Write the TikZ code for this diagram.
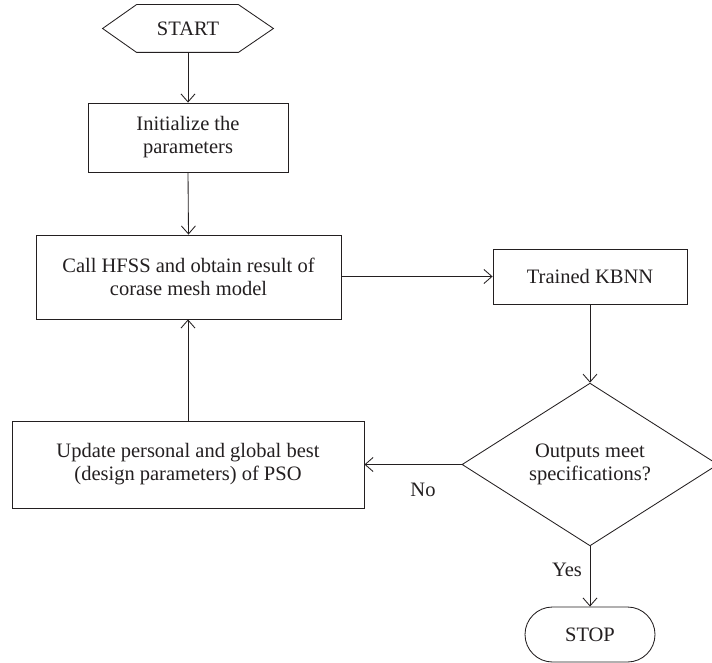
\documentclass[tikz,border=0pt]{standalone}
\usepackage{fontspec}
\setmainfont{Liberation Serif}
\usetikzlibrary{arrows.meta,calc,shapes.geometric}
\definecolor{ink}{RGB}{35,31,32}
\begin{document}
\begin{tikzpicture}[x=1pt,y=-1pt,
  line width=0.85pt, draw=ink,
  every node/.style={font=\fontsize{20.5}{23}\selectfont, text=ink, align=center, inner sep=0pt},
  box/.style={draw=ink, rectangle},
  arr/.style={draw=ink, -{Straight Barb[length=8pt,width=14pt]}},
  lbl/.style={font=\fontsize{20.5}{23}\selectfont}
]
\useasboundingbox (0,0) rectangle (712,663);
\node (start) at (188,28.5) [minimum width=170pt, minimum height=47pt] {START};
\draw (start.west) -- ($(start.north west)+(34,0)$) -- ($(start.north east)+(-35,0)$) -- (start.east) -- ($(start.south east)+(-35,0)$) -- ($(start.south west)+(34,0)$) -- cycle;
\node[box, minimum width=200pt, minimum height=69pt] (init) at (188,137.5) {Initialize the\\parameters};
\node[box, minimum width=305pt, minimum height=84pt] (call) at (188.5,277) {Call HFSS and obtain result of\\corase mesh model};
\node[box, minimum width=194pt, minimum height=55pt] (kbnn) at (590,276.5) {Trained KBNN};
\node[box, minimum width=352pt, minimum height=87pt] (update) at (188,464.5) {Update personal and global best\\(design parameters) of PSO};
\node[draw=ink, diamond, minimum width=256pt, minimum height=145pt] (dec) at (590,464.5) {Outputs meet\\specifications?};
\node[draw=ink, rectangle, rounded corners=27.5pt, minimum width=130pt, minimum height=55pt] (stop) at (590,634.5) {STOP};
\node[lbl] (no) at (423,490) {No};
\node[lbl] (yes) at (567,570) {Yes};
\draw[arr] (start.south) -- (init.north);
\draw[arr] (init.south) -- (call.north);
\draw[arr] (call.east |- kbnn.west) -- (kbnn.west);
\draw[arr] (kbnn.south) -- (dec.north);
\draw[arr] (dec.west) -- (update.east |- dec.west);
\draw[arr] (update.north) -- (update.north |- call.south);
\draw[arr] (dec.south) -- (stop.north);
\end{tikzpicture}
\end{document}
